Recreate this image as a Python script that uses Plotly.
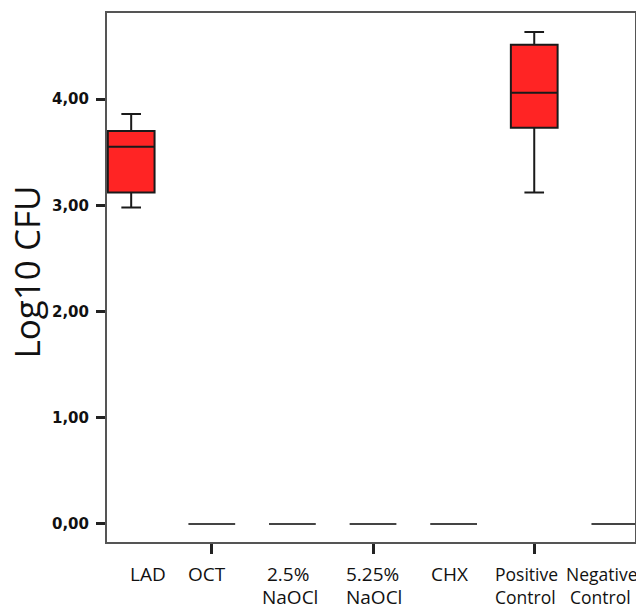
import plotly.graph_objects as go

categories = ["LAD", "OCT", "2.5% NaOCl", "5.25% NaOCl", "CHX", "Positive Control", "Negative Control"]
label_line1 = ["LAD", "OCT", "2.5%", "5.25%", "CHX", "Positive", "Negative"]
label_line2 = ["", "", "NaOCl", "NaOCl", "", "Control", "Control"]

red_groups = ["LAD", "Positive Control"]
red_lower = [2.98, 3.12]
red_q1 = [3.12, 3.73]
red_median = [3.55, 4.06]
red_q3 = [3.70, 4.51]
red_upper = [3.86, 4.63]

zero_groups = ["OCT", "2.5% NaOCl", "5.25% NaOCl", "CHX", "Negative Control"]
zero_values = [0.0, 0.0, 0.0, 0.0, 0.0]

y_ticks = [0, 1, 2, 3, 4]
y_ticktext = ["0,00", "1,00", "2,00", "3,00", "4,00"]
x_tick_groups = ["OCT", "5.25% NaOCl", "Positive Control"]

fig = go.Figure()
fig.add_trace(go.Box(
    x=red_groups, q1=red_q1, median=red_median, q3=red_q3,
    lowerfence=red_lower, upperfence=red_upper,
    fillcolor="#FF2424", line=dict(color="#1a1a1a", width=2),
    whiskerwidth=0.42, showlegend=False, hoverinfo="skip",
))
fig.add_trace(go.Box(
    x=zero_groups, q1=zero_values, median=zero_values, q3=zero_values,
    lowerfence=zero_values, upperfence=zero_values,
    fillcolor="rgba(0,0,0,0)", line=dict(color="#444444", width=2),
    whiskerwidth=0.42, showlegend=False, hoverinfo="skip",
))

label_xshift = [17, -5, -4, -1, -4, -8, -13]
label2_xshift = [0, 0, -2, 1, 0, -9, -14]
label_size = [19, 19, 19, 19, 19, 17.5, 17.5]
annotations = []
for i, cat in enumerate(categories):
    annotations.append(dict(
        x=cat, y=0, xref="x", yref="paper", text=label_line1[i],
        showarrow=False, yanchor="middle", yshift=-32, xshift=label_xshift[i],
        font=dict(family="Open Sans", size=label_size[i], color="#111"),
    ))
    if label_line2[i]:
        annotations.append(dict(
            x=cat, y=0, xref="x", yref="paper", text=label_line2[i],
            showarrow=False, yanchor="middle", yshift=-55, xshift=label2_xshift[i],
            font=dict(family="Open Sans", size=label_size[i], color="#111"),
        ))
annotations.append(dict(
    x=0, y=0.5, xref="paper", yref="paper", text="Log10 CFU", textangle=-90,
    showarrow=False, xanchor="center", yanchor="middle", xshift=-81, yshift=5,
    font=dict(family="Open Sans", size=35, color="#111"),
))

fig.update_layout(
    width=636, height=602,
    margin=dict(l=99, r=9, t=5, b=68, autoexpand=False),
    paper_bgcolor="white", plot_bgcolor="white",
    boxmode="overlay", boxgap=0.42, boxgroupgap=0,
    annotations=annotations,
    xaxis=dict(
        type="category", categoryorder="array", categoryarray=categories,
        range=[-0.3, 6.25], tickmode="array", tickvals=x_tick_groups,
        showticklabels=False, ticks="outside", ticklen=10, tickwidth=2.5,
        tickcolor="#222", showline=True, linecolor="#555", linewidth=2,
        mirror=True, showgrid=False, zeroline=False, automargin=False,
    ),
    yaxis=dict(
        range=[-0.17, 4.81], tickmode="array", tickvals=y_ticks,
        ticktext=["<b>" + t + "</b>" for t in y_ticktext], ticks="outside",
        ticklen=9, tickwidth=2.5, tickcolor="#222", ticklabelstandoff=4,
        tickfont=dict(family="DejaVu Sans", size=15, color="#111"),
        showline=True, linecolor="#555", linewidth=2, mirror=True,
        showgrid=False, zeroline=False, automargin=False,
    ),
)

fig.write_html("out.html")
